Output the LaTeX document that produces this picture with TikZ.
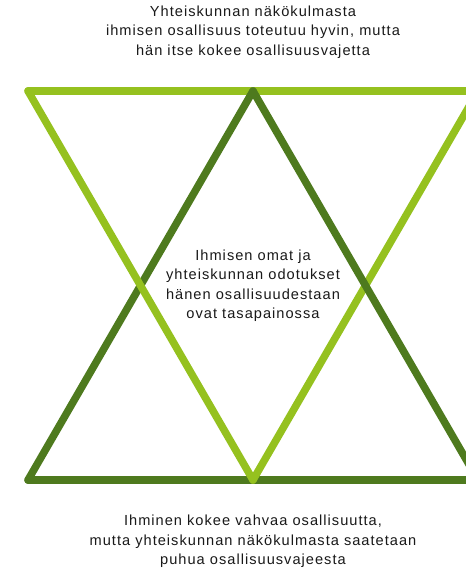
\documentclass[tikz,border=0pt]{standalone}
\usepackage{fontspec}
\setmainfont{Liberation Sans}[LetterSpace=7]
\definecolor{lightg}{HTML}{95C11F}
\definecolor{darkg}{HTML}{4E7A1E}
\begin{document}
\begin{tikzpicture}[x=1pt,y=-1pt,
  edge/.style={line width=7.5pt,line cap=round},
  lbl/.style={align=center,font=\fontsize{14.6}{19.5}\selectfont,text=black!90,inner sep=0pt}]
\useasboundingbox (0,0) rectangle (466,571);
\coordinate (LT1) at (28,91);
\coordinate (LT2) at (478,91);
\coordinate (LB) at (253,480);
\coordinate (DT) at (253,91);
\coordinate (DB1) at (28,480);
\coordinate (DB2) at (478,480);
% layering
\draw[edge,darkg] (DB1) -- (DB2);
\draw[edge,lightg] (LT1) -- (LT2);
\draw[edge,lightg] (LT2) -- (LB);
\draw[edge,darkg] (DT) -- (DB2);
\draw[edge,darkg] (DT) -- (DB1);
\draw[edge,lightg] (LT1) -- (LB);
\node[lbl] (top) at (253,32) {Yhteiskunnan näkökulmasta\\ihmisen osallisuus toteutuu hyvin, mutta\\hän itse kokee osallisuusvajetta};
\node[lbl] (mid) at (253,285.5) {Ihmisen omat ja\\yhteiskunnan odotukset\\hänen osallisuudestaan\\ovat tasapainossa};
\node[lbl] (bot) at (253,541.5) {Ihminen kokee vahvaa osallisuutta,\\mutta yhteiskunnan näkökulmasta saatetaan\\puhua osallisuusvajeesta};
\end{tikzpicture}
\end{document}
